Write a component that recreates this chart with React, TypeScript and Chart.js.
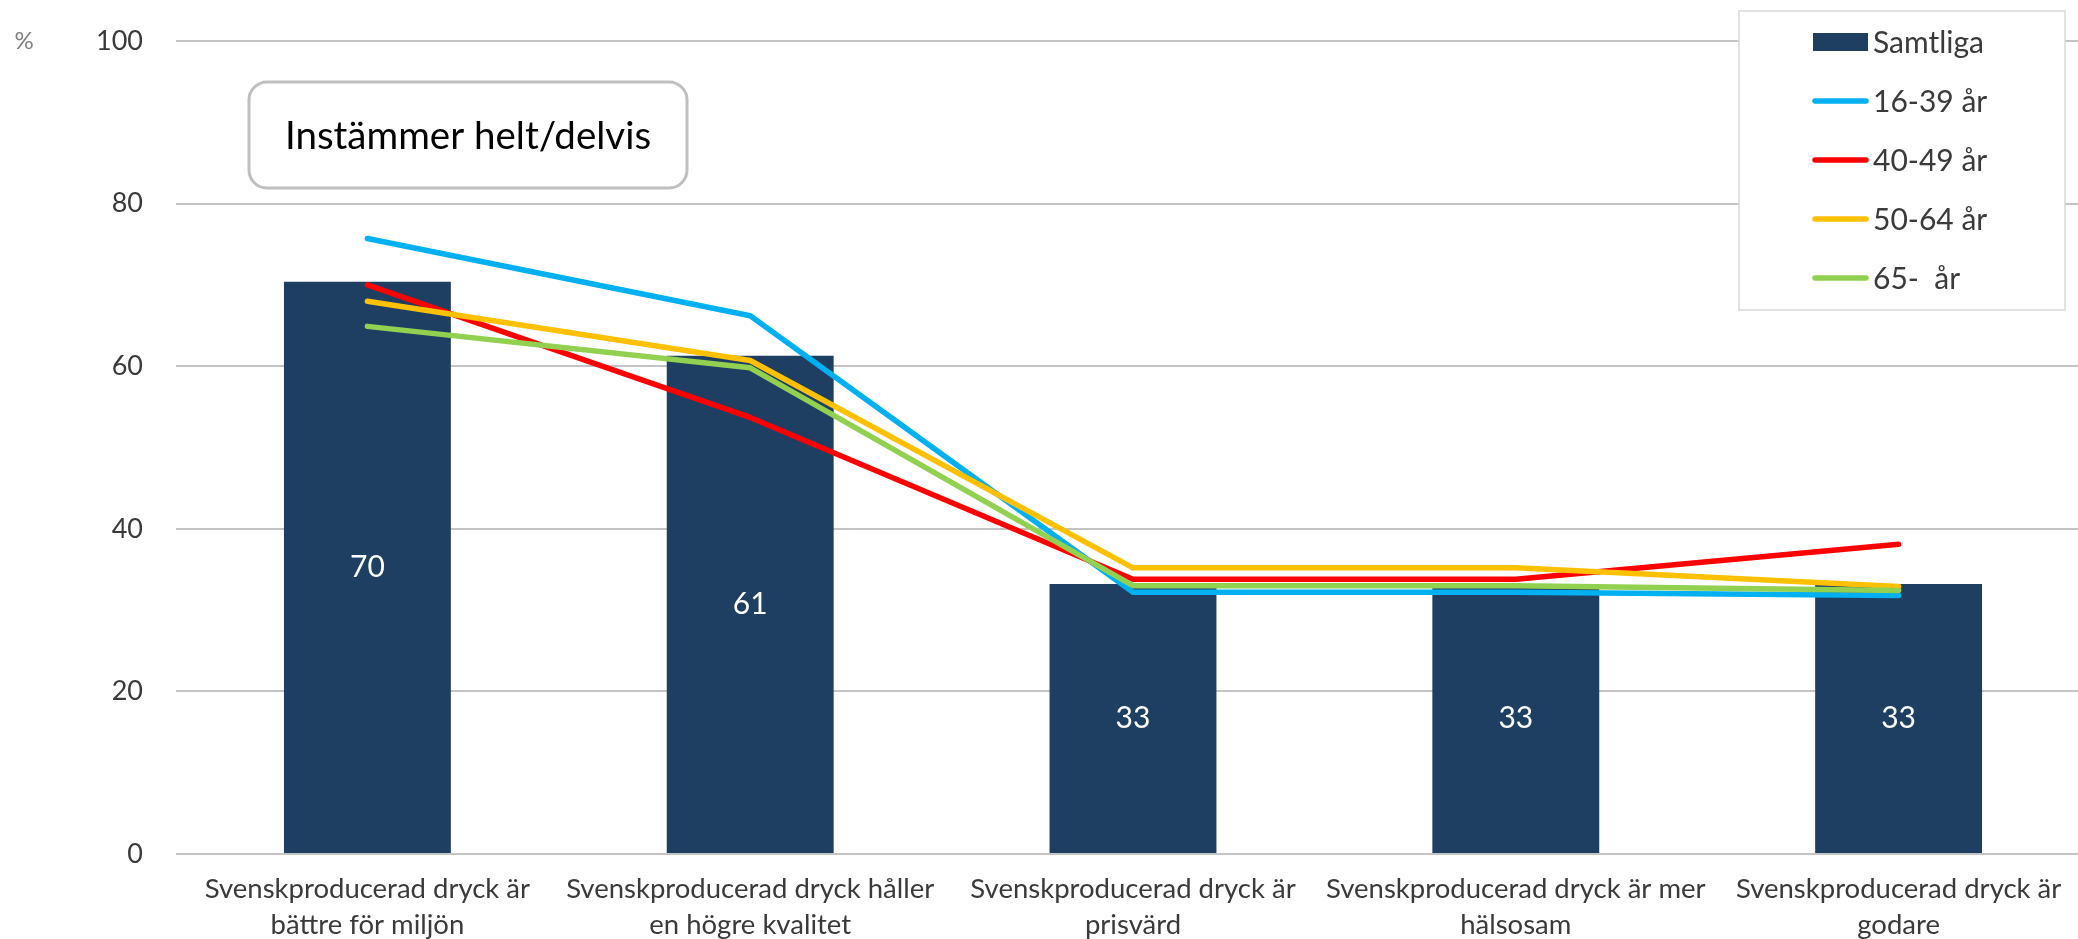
import React, { useEffect, useRef } from "react";
import { Chart, registerables } from "chart.js";

Chart.register(...registerables);

const categories: string[][] = [
  ["Svenskproducerad dryck är", "bättre för miljön"],
  ["Svenskproducerad dryck håller", "en högre kvalitet"],
  ["Svenskproducerad dryck är", "prisvärd"],
  ["Svenskproducerad dryck är mer", "hälsosam"],
  ["Svenskproducerad dryck är", "godare"],
];

const samtliga = [70.4, 61.3, 33.2, 33.2, 33.2];
const age16to39 = [75.7, 66.2, 32.2, 32.2, 31.8];
const age40to49 = [70.0, 53.7, 33.8, 33.8, 38.1];
const age50to64 = [68.0, 60.7, 35.2, 35.2, 32.9];
const age65plus = [64.9, 59.8, 33.0, 33.0, 32.4];

const yTicks = [0, 20, 40, 60, 80, 100];
const titleText = "Instämmer helt/delvis";
const unitText = "%";

const FONT = "Lato, 'Open Sans', sans-serif";
const TEXT = "#3a3a3a";

const extrasPlugin = {
  id: "extras",
  afterDatasetsDraw(chart: any) {
    const ctx = chart.ctx;
    const meta = chart.getDatasetMeta(0);
    ctx.save();
    ctx.fillStyle = "#ffffff";
    ctx.font = `30px ${FONT}`;
    ctx.textAlign = "center";
    ctx.textBaseline = "middle";
    meta.data.forEach((bar: any, i: number) => {
      const p = bar.getProps(["x", "y", "base"], true);
      ctx.fillText(String(Math.round(samtliga[i])), p.x, (p.y + p.base) / 2);
    });
    ctx.restore();
  },
  afterDraw(chart: any) {
    const ctx = chart.ctx;
    const area = chart.chartArea;
    const yScale = chart.scales.y;
    ctx.save();

    // unit label
    ctx.fillStyle = "#808080";
    ctx.font = `24px ${FONT}`;
    ctx.textAlign = "center";
    ctx.textBaseline = "middle";
    ctx.fillText(unitText, 24, yScale.getPixelForValue(100));

    // title box
    const bx = area.left + 73;
    const by = area.top + 41;
    const bw = 438;
    const bh = 106;
    ctx.beginPath();
    ctx.roundRect(bx, by, bw, bh, 18);
    ctx.fillStyle = "#ffffff";
    ctx.fill();
    ctx.lineWidth = 3;
    ctx.strokeStyle = "#bfbfbf";
    ctx.stroke();
    ctx.fillStyle = "#000000";
    ctx.font = `38.5px ${FONT}`;
    ctx.fillText(titleText, bx + bw / 2, by + bh / 2 + 2);

    // legend
    const lx = area.right - 351;
    const ly = area.top - 30;
    const lw = 326;
    const lh = 299;
    ctx.fillStyle = "#ffffff";
    ctx.fillRect(lx, ly, lw, lh);
    ctx.lineWidth = 1.5;
    ctx.strokeStyle = "#d9d9d9";
    ctx.strokeRect(lx, ly, lw, lh);
    const ds = chart.data.datasets;
    ctx.font = `30px ${FONT}`;
    ctx.textAlign = "left";
    ctx.textBaseline = "middle";
    ds.forEach((d: any, i: number) => {
      const cy = ly + 31 + i * 59;
      const sx = lx + 74;
      if (d.type === "bar") {
        ctx.fillStyle = d.backgroundColor;
        ctx.fillRect(sx, cy - 9, 55, 18);
      } else {
        ctx.beginPath();
        ctx.moveTo(sx + 2, cy);
        ctx.lineTo(sx + 53, cy);
        ctx.lineWidth = 5.5;
        ctx.lineCap = "round";
        ctx.strokeStyle = d.borderColor;
        ctx.stroke();
      }
      ctx.fillStyle = TEXT;
      ctx.fillText(d.label, sx + 60, cy + 1);
    });
    ctx.restore();
  },
};

function lineDs(label: string, data: number[], color: string, order: number) {
  return {
    type: "line" as const,
    label,
    data,
    borderColor: color,
    backgroundColor: color,
    borderWidth: 5.5,
    pointRadius: 0,
    tension: 0,
    borderCapStyle: "round" as const,
    borderJoinStyle: "round" as const,
    order,
  };
}

export default function App() {
  const ref = useRef<HTMLCanvasElement | null>(null);
  useEffect(() => {
    if (!ref.current) return;
    document.body.style.margin = "0";
    document.body.style.overflow = "hidden";
    Chart.defaults.font.family = FONT;
    const chart = new Chart(ref.current, {
      type: "bar",
      data: {
        labels: categories,
        datasets: [
          {
            type: "bar",
            label: "Samtliga",
            data: samtliga,
            backgroundColor: "#1f3f62",
            borderWidth: 0,
            barPercentage: 0.436,
            categoryPercentage: 1,
            order: 10,
          } as any,
          lineDs("16-39 år", age16to39, "#00b0f0", 4),
          lineDs("40-49 år", age40to49, "#ff0000", 3),
          lineDs("50-64 år", age50to64, "#ffc000", 2),
          lineDs("65-  år", age65plus, "#92d050", 1),
        ],
      },
      options: {
        animation: false,
        responsive: false,
        devicePixelRatio: 1,
        layout: { padding: { top: 41, right: 2, left: 0, bottom: 0 } },
        plugins: {
          legend: { display: false },
          tooltip: { enabled: false },
          title: { display: false },
        },
        scales: {
          x: {
            grid: { display: false, drawTicks: false },
            border: { display: false },
            ticks: {
              color: TEXT,
              font: { size: 27.5, lineHeight: 1.28 },
              padding: 18,
              maxRotation: 0,
              autoSkip: false,
            },
            afterFit: (s: any) => {
              s.height = 85;
            },
          },
          y: {
            min: 0,
            max: 100,
            afterBuildTicks: (s: any) => {
              s.ticks = yTicks.map((v) => ({ value: v }));
            },
            grid: { color: "#c4c4c4", lineWidth: 2, drawTicks: false },
            border: { display: false },
            ticks: {
              color: TEXT,
              font: { size: 27 },
              padding: 33,
            },
            afterFit: (s: any) => {
              s.width = 176;
              s.paddingTop = 0;
              s.paddingBottom = 0;
            },
          },
        },
      },
      plugins: [extrasPlugin],
    });
    return () => chart.destroy();
  }, []);
  return (
    <div
      style={{
        position: "fixed",
        left: 0,
        top: 0,
        width: 2078,
        height: 939,
        overflow: "hidden",
        background: "#ffffff",
      }}
    >
      <canvas ref={ref} width={2092} height={939} style={{ display: "block" }} />
    </div>
  );
}
